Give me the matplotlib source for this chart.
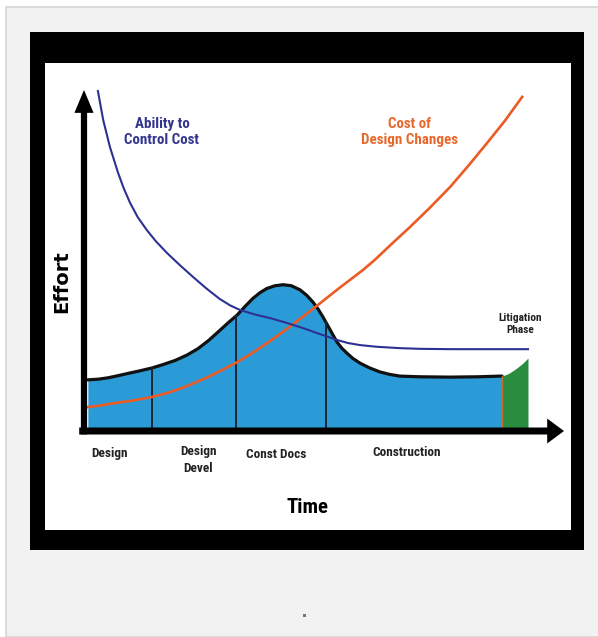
import numpy as np
import matplotlib.pyplot as plt
from matplotlib.patches import Rectangle

# effort curve (project effort over time)
time = [0.8, 3.0, 5.0, 7.0, 9.2, 11.5, 14.2, 16.5, 19.0, 21.5, 23.8, 26.0, 27.9, 30.0,
        31.9, 33.6, 35.2, 36.7, 38.1, 39.8, 41.5, 43.2, 45.0, 46.4, 47.7, 48.8, 49.8,
        51.3, 52.7, 53.7, 54.8, 56.0, 57.5, 59.5, 61.7, 63.7, 65.8, 70.0, 76.3, 82.0,
        86.7, 87.1, 88.5, 89.8, 91.2, 92.5]
effort = [15.0, 15.2, 15.6, 16.2, 16.9, 17.6, 18.5, 19.5, 20.7, 22.3, 24.2, 26.6, 29.0, 31.7,
          34.0, 36.6, 38.9, 40.6, 41.8, 42.6, 42.9, 42.6, 41.4, 39.8, 37.8, 35.7, 33.4,
          29.6, 26.1, 24.3, 22.8, 21.3, 19.9, 18.5, 17.3, 16.6, 16.1, 15.9, 15.8, 15.9,
          16.1, 16.1, 16.9, 18.1, 19.6, 21.4]

# ability to control cost
ctrl_t = [2.9, 4.0, 5.4, 7.1, 8.3, 9.6, 11.2, 13.1, 15.0, 17.3, 20.0, 22.7, 25.5, 28.3,
          30.5, 32.5, 35.5, 38.8, 42.0, 45.6, 49.0, 52.7, 55.0, 57.5, 61.0, 65.8, 70.0,
          76.3, 92.5]
ctrl_v = [99.7, 91.2, 83.3, 75.7, 71.1, 66.9, 62.7, 58.9, 55.6, 52.2, 48.6, 45.2, 41.8, 38.7,
          36.8, 35.5, 34.2, 33.1, 31.8, 30.2, 28.5, 26.7, 25.8, 25.2, 24.7, 24.3, 24.1,
          24.0, 24.0]

# cost of design changes
cost_t = [0.8, 3.5, 6.5, 10.5, 14.2, 17.5, 20.4, 23.0, 25.8, 28.8, 31.9, 34.3, 36.7, 39.5,
          42.3, 45.4, 48.5, 52.7, 55.4, 58.1, 60.6, 64.2, 67.9, 72.0, 76.3, 80.2, 84.0,
          87.7, 91.3]
cost_v = [7.0, 7.5, 8.2, 9.0, 10.0, 11.2, 12.6, 14.1, 15.8, 17.9, 20.2, 22.2, 24.4, 27.1,
          30.0, 33.3, 36.7, 41.4, 44.3, 47.2, 50.2, 55.0, 59.8, 65.4, 71.6, 78.0, 84.5,
          91.0, 98.0]

phase_bounds = [14.2, 31.7, 50.4]
litigation_start = 87.1
phase_labels = ["Design", "Design\nDevel", "Const Docs", "Construction"]
phase_label_x = [5.4, 23.8, 40.0, 67.3]
phase_label_y = [-6.5, -8.5, -7.0, -6.2]

W, H = 598, 637
fig = plt.figure(figsize=(W / 100, H / 100), dpi=100, facecolor="white")
fam = ["Liberation Sans Narrow", "DejaVu Sans Condensed", "Roboto Condensed", "Roboto"]

# page background, black frame, white inner panel
fig.patches.append(Rectangle((6 / W, 0), 1, 1 - 7 / H, transform=fig.transFigure,
                             facecolor="#f2f2f2", edgecolor="#d6d6d6", lw=1.2, zorder=-3))
fig.patches.append(Rectangle((30 / W, 1 - 550 / H), 554 / W, 518 / H,
                             transform=fig.transFigure, facecolor="black", zorder=-2))
fig.patches.append(Rectangle((45 / W, 1 - 530 / H), 526 / W, 467 / H,
                             transform=fig.transFigure, facecolor="white", zorder=-1))
fig.patches.append(Rectangle((303 / W, 1 - 617 / H), 3 / W, 3 / H,
                             transform=fig.transFigure, facecolor="#777777", zorder=-2))

ax = fig.add_axes([45 / W, 1 - 530 / H, 526 / W, 467 / H])
ax.set_zorder(5)
ax.set_xlim(-8.125, 101.46)
ax.set_ylim(-29.03, 107.92)
ax.axis("off")

t = np.array(time)
e = np.array(effort)
blue = t <= litigation_start
green = t >= litigation_start
ax.fill_between(t[blue], 0, e[blue], color="#2b9bd7", lw=0, zorder=2)
ax.fill_between(t[green], 0, e[green], color="#2a8c3f", lw=0, zorder=2)
ax.plot(t[blue], e[blue], color="#111111", lw=2.3, zorder=3, solid_capstyle="round")
for b in phase_bounds:
    ax.plot([b, b], [0, np.interp(b, t, e)], color="#1c2433", lw=1.4, zorder=3)
ax.plot([litigation_start] * 2, [0, np.interp(litigation_start, t, e)],
        color="#c86a2a", lw=1.0, zorder=3)

ax.plot(cost_t, cost_v, color="#ec5b24", lw=1.9, zorder=4)
ax.plot(ctrl_t, ctrl_v, color="#2e3192", lw=1.5, zorder=4)

# axes arrows
ax.arrow(-1, 0, 101, 0, width=2.05, head_width=7.3, head_length=3.5,
         length_includes_head=True, color="black", lw=0, zorder=5)
ax.arrow(0, -1, 0, 101, width=1.3, head_width=4.0, head_length=6.7,
         length_includes_head=True, color="black", lw=0, zorder=5)

ax.text(16.25, 87.7, "Ability to\nControl Cost", color="#33358f", family=fam,
        fontweight="bold", fontsize=10.8, ha="center", va="center", linespacing=1.25)
ax.text(67.9, 87.7, "Cost of\nDesign Changes", color="#e8682c", family=fam,
        fontweight="bold", fontsize=10.8, ha="center", va="center", linespacing=1.25)
ax.text(-4.6, 43.7, "Effort", family="DejaVu Sans", fontweight="bold", fontsize=14,
        rotation=90, ha="center", va="center")
ax.text(46.5, -22.3, "Time", family=fam, fontweight="bold", fontsize=15,
        ha="center", va="center")
for lab, x, y in zip(phase_labels, phase_label_x, phase_label_y):
    ax.text(x, y, lab, family=fam, fontweight="bold", fontsize=9.5, ha="center",
            va="center", linespacing=1.4, color="#222222")
ax.text(90.8, 31.4, "Litigation\nPhase", family=fam, fontweight="bold", fontsize=8.2,
        ha="center", va="center", linespacing=1.3, color="#222222")

fig.savefig("out.png", dpi=100)
